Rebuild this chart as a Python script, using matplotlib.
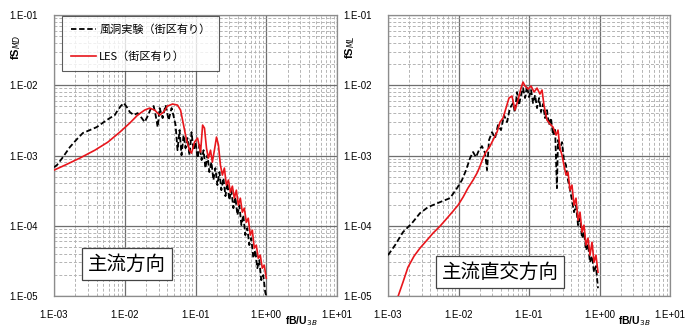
import matplotlib
matplotlib.use("Agg")
import matplotlib.pyplot as plt
from matplotlib.ticker import LogLocator, FixedLocator

# ---------------- data ----------------
tick_vals = [1e-3, 1e-2, 1e-1, 1e0, 1e1]
xtick_labels = ["1.E-03", "1.E-02", "1.E-01", "1.E+00", "1.E+01"]
ytick_vals = [1e-5, 1e-4, 1e-3, 1e-2, 1e-1]
ytick_labels = ["1.E-05", "1.E-04", "1.E-03", "1.E-02", "1.E-01"]

legend_labels = ["風洞実験（街区有り）", "LES（街区有り）"]
panel_titles = ["主流方向", "主流直交方向"]
ylabels = ["fS$_{MD}$", "fS$_{ML}$"]
xlabel = "fB/U$_{3B}$"

# Along-wind (MD) : wind tunnel experiment
md_exp_x = [1.0e-3, 1.10e-3, 1.34e-3, 1.68e-3, 2.11e-3, 2.56e-3, 3.21e-3, 4.03e-3, 5.06e-3, 6.15e-3,
            7.23e-3, 7.97e-3, 8.79e-3, 9.68e-3, 1.07e-2, 1.18e-2, 1.34e-2, 1.52e-2, 1.74e-2, 1.91e-2,
            2.11e-2, 2.32e-2, 2.56e-2, 2.73e-2, 2.92e-2, 3.11e-2, 3.43e-2, 3.78e-2, 4.17e-2, 4.59e-2,
            4.90e-2, 5.23e-2, 5.57e-2, 5.95e-2, 6.35e-2, 6.78e-2, 7.23e-2, 7.71e-2, 8.23e-2, 8.79e-2,
            9.37e-2, 1.00e-1, 1.07e-1, 1.14e-1, 1.22e-1, 1.30e-1, 1.38e-1, 1.48e-1, 1.57e-1, 1.68e-1,
            1.79e-1, 1.91e-1, 2.04e-1, 2.18e-1, 2.32e-1, 2.48e-1, 2.65e-1, 2.82e-1, 3.01e-1, 3.21e-1,
            3.43e-1, 3.66e-1, 3.91e-1, 4.17e-1, 4.45e-1, 4.74e-1, 5.06e-1, 5.40e-1, 5.76e-1, 6.15e-1,
            6.56e-1, 7.00e-1, 7.47e-1, 7.97e-1, 8.50e-1, 9.07e-1, 9.68e-1, 1.0]
md_exp_y = [6.8e-4, 7.3e-4, 9.5e-4, 1.32e-3, 1.71e-3, 2.09e-3, 2.30e-3, 2.54e-3, 2.99e-3, 3.41e-3,
            3.76e-3, 4.43e-3, 5.06e-3, 5.57e-3, 4.89e-3, 4.15e-3, 3.76e-3, 4.01e-3, 3.41e-3, 2.99e-3,
            3.64e-3, 4.58e-3, 5.06e-3, 3.76e-3, 2.54e-3, 4.73e-3, 3.41e-3, 5.22e-3, 3.19e-3, 4.73e-3,
            3.64e-3, 2.71e-3, 1.19e-3, 2.30e-3, 1.01e-3, 1.95e-3, 1.27e-3, 1.77e-3, 1.01e-3, 2.15e-3,
            1.19e-3, 1.55e-3, 9.19e-4, 1.41e-3, 8.60e-4, 1.19e-3, 6.62e-4, 1.01e-3, 5.81e-4, 8.05e-4,
            4.47e-4, 6.62e-4, 3.79e-4, 5.81e-4, 3.21e-4, 4.77e-4, 2.64e-4, 4.05e-4, 2.32e-4, 3.21e-4,
            1.78e-4, 2.55e-4, 1.42e-4, 1.96e-4, 1.02e-4, 1.42e-4, 7.35e-5, 9.25e-5, 5.30e-5, 6.66e-5,
            3.45e-5, 4.49e-5, 2.49e-5, 3.24e-5, 1.68e-5, 1.98e-5, 1.13e-5, 9.9e-6]

# Along-wind (MD) : LES
md_les_x = [1.0e-3, 1.43e-3, 2.32e-3, 3.78e-3, 5.77e-3, 8.51e-3, 1.18e-2, 1.52e-2, 1.91e-2, 2.25e-2,
            2.65e-2, 3.11e-2, 3.54e-2, 4.03e-2, 4.74e-2, 5.57e-2, 6.15e-2, 6.78e-2, 7.47e-2, 8.23e-2,
            8.79e-2, 9.68e-2, 1.07e-1, 1.18e-1, 1.26e-1, 1.34e-1, 1.43e-1, 1.52e-1, 1.63e-1, 1.73e-1,
            1.85e-1, 1.98e-1, 2.11e-1, 2.25e-1, 2.40e-1, 2.56e-1, 2.73e-1, 2.92e-1, 3.11e-1, 3.32e-1,
            3.54e-1, 3.78e-1, 4.03e-1, 4.30e-1, 4.59e-1, 4.90e-1, 5.23e-1, 5.57e-1, 5.95e-1, 6.35e-1,
            6.78e-1, 7.23e-1, 7.71e-1, 8.23e-1, 8.79e-1, 9.37e-1, 1.0]
md_les_y = [6.19e-4, 7.29e-4, 9.19e-4, 1.19e-3, 1.55e-3, 2.15e-3, 2.90e-3, 3.76e-3, 4.43e-3, 4.73e-3,
            4.43e-3, 3.76e-3, 4.15e-3, 5.06e-3, 5.40e-3, 5.22e-3, 4.43e-3, 2.71e-3, 1.66e-3, 1.19e-3,
            1.08e-3, 1.55e-3, 1.77e-3, 1.12e-3, 2.71e-3, 2.45e-3, 1.27e-3, 9.19e-4, 1.19e-3, 8.05e-4,
            1.19e-3, 1.83e-3, 1.41e-3, 7.29e-4, 5.26e-4, 6.62e-4, 3.79e-4, 4.47e-4, 3.01e-4, 3.66e-4,
            2.47e-4, 3.21e-4, 1.96e-4, 2.47e-4, 1.56e-4, 1.78e-4, 1.12e-4, 1.28e-4, 7.35e-5, 8.65e-5,
            4.80e-5, 5.30e-5, 3.45e-5, 3.81e-5, 2.49e-5, 2.75e-5, 1.79e-5]

# Across-wind (ML) : wind tunnel experiment
ml_exp_x = [1.0e-3, 1.26e-3, 1.63e-3, 2.19e-3, 2.84e-3, 3.69e-3, 5.47e-3, 7.57e-3, 9.53e-3, 1.12e-2,
            1.28e-2, 1.46e-2, 1.61e-2, 1.77e-2, 1.95e-2, 2.15e-2, 2.38e-2, 2.54e-2, 2.71e-2, 2.99e-2,
            3.30e-2, 3.63e-2, 4.01e-2, 4.42e-2, 4.87e-2, 5.37e-2, 5.93e-2, 6.32e-2, 6.76e-2, 7.21e-2,
            7.71e-2, 8.23e-2, 8.78e-2, 9.37e-2, 1.00e-1, 1.07e-1, 1.14e-1, 1.22e-1, 1.30e-1, 1.39e-1,
            1.48e-1, 1.58e-1, 1.69e-1, 1.80e-1, 1.92e-1, 2.05e-1, 2.19e-1, 2.34e-1, 2.49e-1, 2.58e-1,
            2.75e-1, 2.94e-1, 3.13e-1, 3.35e-1, 3.57e-1, 3.82e-1, 4.07e-1, 4.35e-1, 4.64e-1, 4.96e-1,
            5.29e-1, 5.65e-1, 6.03e-1, 6.44e-1, 6.87e-1, 7.33e-1, 7.83e-1, 8.36e-1, 8.91e-1, 9.52e-1]
ml_exp_y = [3.81e-5, 5.30e-5, 8.11e-5, 1.09e-4, 1.51e-4, 1.84e-4, 2.17e-4, 2.47e-4, 3.43e-4, 4.47e-4,
            6.19e-4, 9.19e-4, 1.12e-3, 9.48e-4, 1.19e-3, 1.36e-3, 1.08e-3, 6.19e-4, 1.66e-3, 2.15e-3,
            1.77e-3, 2.71e-3, 2.30e-3, 3.76e-3, 2.99e-3, 4.73e-3, 5.57e-3, 4.15e-3, 8.00e-3, 5.22e-3,
            7.24e-3, 9.12e-3, 6.58e-3, 9.75e-3, 6.79e-3, 8.55e-3, 5.57e-3, 7.24e-3, 4.73e-3, 6.58e-3,
            4.15e-3, 5.40e-3, 3.41e-3, 4.43e-3, 2.71e-3, 3.41e-3, 1.95e-3, 2.45e-3, 3.43e-4, 1.66e-3,
            1.19e-3, 1.55e-3, 8.60e-4, 7.29e-4, 4.47e-4, 3.21e-4, 2.32e-4, 1.56e-4, 1.96e-4, 1.02e-4,
            1.28e-4, 6.66e-5, 8.11e-5, 4.49e-5, 5.47e-5, 3.03e-5, 3.69e-5, 2.18e-5, 2.66e-5, 1.29e-5]

# Across-wind (ML) : LES
ml_les_x = [1.39e-3, 1.63e-3, 1.92e-3, 2.34e-3, 2.84e-3, 3.57e-3, 4.35e-3, 5.47e-3, 6.87e-3, 8.36e-3,
            9.84e-3, 1.16e-2, 1.36e-2, 1.61e-2, 1.83e-2, 2.02e-2, 2.23e-2, 2.45e-2, 2.80e-2, 3.19e-2,
            3.52e-2, 3.88e-2, 4.28e-2, 4.72e-2, 5.20e-2, 5.74e-2, 6.32e-2, 6.98e-2, 7.71e-2, 8.23e-2,
            8.78e-2, 9.68e-2, 1.07e-1, 1.18e-1, 1.30e-1, 1.43e-1, 1.53e-1, 1.63e-1, 1.80e-1, 1.99e-1,
            2.19e-1, 2.42e-1, 2.58e-1, 2.75e-1, 2.94e-1, 3.13e-1, 3.35e-1, 3.57e-1, 3.82e-1, 4.07e-1,
            4.35e-1, 4.64e-1, 4.96e-1, 5.29e-1, 5.65e-1, 6.03e-1, 6.44e-1, 6.87e-1, 7.33e-1, 7.83e-1,
            8.36e-1, 8.91e-1, 9.52e-1]
ml_les_y = [9.9e-6, 1.57e-5, 2.57e-5, 3.69e-5, 4.80e-5, 6.24e-5, 7.85e-5, 9.86e-5, 1.28e-4, 1.61e-4,
            1.96e-4, 2.55e-4, 3.43e-4, 4.47e-4, 5.61e-4, 7.06e-4, 9.19e-4, 1.12e-3, 1.36e-3, 1.77e-3,
            2.15e-3, 2.99e-3, 3.41e-3, 4.73e-3, 6.58e-3, 7.02e-3, 4.43e-3, 6.15e-3, 9.12e-3, 1.11e-2,
            9.75e-3, 8.83e-3, 9.75e-3, 8.00e-3, 9.12e-3, 7.50e-3, 8.55e-3, 5.22e-3, 3.19e-3, 2.80e-3,
            2.54e-3, 1.95e-3, 2.30e-3, 1.27e-3, 1.01e-3, 7.29e-4, 5.26e-4, 5.81e-4, 3.21e-4, 3.79e-4,
            1.96e-4, 2.47e-4, 1.20e-4, 1.56e-4, 8.11e-5, 1.02e-4, 5.30e-5, 6.66e-5, 3.81e-5, 5.83e-5,
            3.03e-5, 3.81e-5, 2.18e-5]

# ---------------- style ----------------
plt.rcParams['font.family'] = ['Noto Sans CJK JP', 'DejaVu Sans']
RED = "#e8161c"

fig = plt.figure(figsize=(6.98, 3.27), dpi=100)
ax1 = fig.add_axes([54/698, 1-296/327, 283/698, 281/327])
ax2 = fig.add_axes([388/698, 1-296/327, 282/698, 281/327])

panels = [
    (ax1, md_exp_x, md_exp_y, md_les_x, md_les_y),
    (ax2, ml_exp_x, ml_exp_y, ml_les_x, ml_les_y),
]

for i, (ax, ex, ey, lx, ly) in enumerate(panels):
    ax.set_xscale('log')
    ax.set_yscale('log')
    ax.set_xlim(1e-3, 1e1)
    ax.set_ylim(1e-5, 1e-1)
    ax.xaxis.set_major_locator(FixedLocator(tick_vals))
    ax.yaxis.set_major_locator(FixedLocator(ytick_vals))
    ax.xaxis.set_minor_locator(LogLocator(base=10, subs=range(2, 10), numticks=20))
    ax.yaxis.set_minor_locator(LogLocator(base=10, subs=range(2, 10), numticks=20))
    ax.set_xticklabels(xtick_labels, family=['Liberation Sans'], fontsize=7)
    ax.set_yticklabels(ytick_labels, family=['Liberation Sans'], fontsize=7)
    ax.tick_params(which='both', length=0)
    ax.tick_params(axis='y', pad=12)
    ax.tick_params(axis='x', pad=10)
    ax.grid(True, which='major', color='#6e6e6e', lw=0.9, ls='-')
    ax.grid(True, which='minor', color='#b4b4b4', lw=0.7, ls=(0, (3, 2)))
    ax.set_axisbelow(True)
    for sp in ax.spines.values():
        sp.set_color('#8c8c8c')
        sp.set_linewidth(0.9)

    ax.plot(ex, ey, color='black', lw=1.3, ls=(0, (3, 1.5)), label=legend_labels[0], zorder=3)
    ax.plot(lx, ly, color=RED, lw=1.2, ls='-', label=legend_labels[1], zorder=4)

    ax.text(-0.135, 0.885, ylabels[i], transform=ax.transAxes,
            rotation=90, ha='center', va='center', fontsize=8, fontweight='bold',
            family=['Liberation Sans'])

ax1.text((285-54)/283, -0.09, xlabel, transform=ax1.transAxes, ha='left', va='center',
         fontsize=7.5, fontweight='bold', family=['Liberation Sans'])
ax2.text((618-388)/282, -0.09, xlabel, transform=ax2.transAxes, ha='left', va='center',
         fontsize=7.5, fontweight='bold', family=['Liberation Sans'])

leg = ax1.legend(loc='upper left', bbox_to_anchor=(0.03, 0.998), fontsize=8, frameon=True,
                 fancybox=False, edgecolor='#333333', handlelength=2.2, borderpad=0.8,
                 labelspacing=1.45, handletextpad=0.3, borderaxespad=0.0)
leg.get_frame().set_linewidth(0.8)

bbox = dict(boxstyle='square,pad=0.3', fc='white', ec='#444444', lw=0.9)
ax1.text((127-54)/283, 1-(264-15)/281, panel_titles[0], transform=ax1.transAxes,
         ha='center', va='center', fontsize=14, bbox=bbox, zorder=6)
ax2.text((500-388)/282, 1-(272-15)/281, panel_titles[1], transform=ax2.transAxes,
         ha='center', va='center', fontsize=14, bbox=bbox, zorder=6)

fig.savefig("out.png", dpi=100)
